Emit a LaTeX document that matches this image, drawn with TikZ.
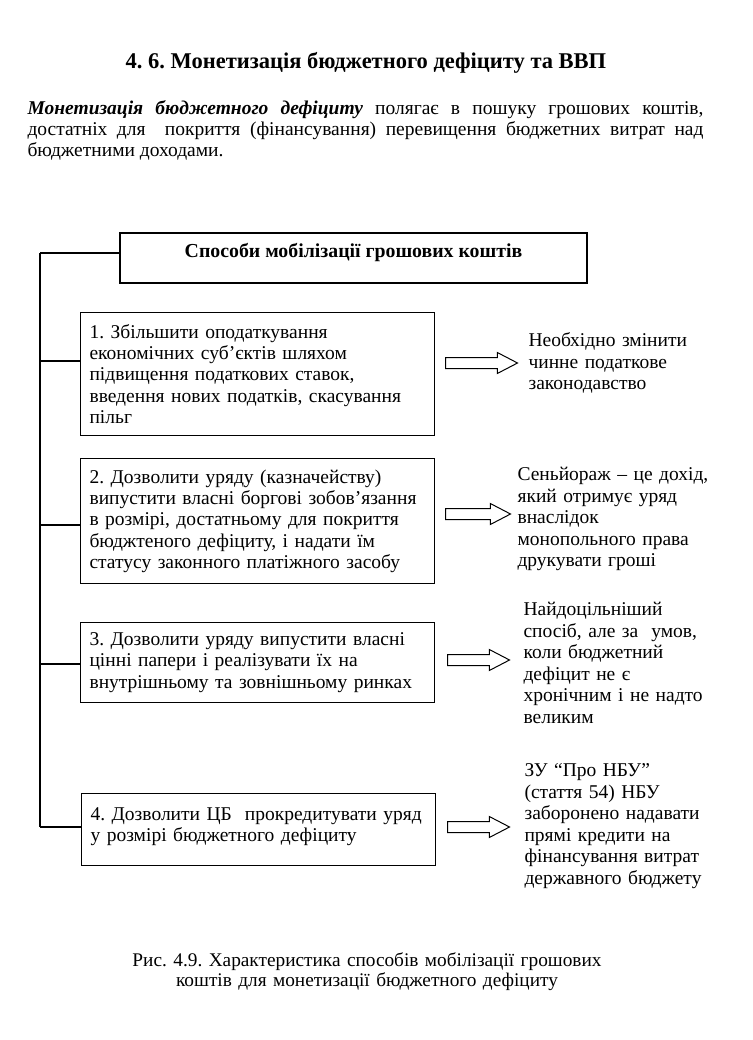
\documentclass[tikz,border=0pt]{standalone}
\usepackage{fontspec}
\setmainfont{Liberation Serif}
\usetikzlibrary{shapes.arrows}
\newcommand{\fsbody}{\frenchspacing\fontsize{19.5}{21.3}\selectfont}
\newcommand{\fsside}{\frenchspacing\fontsize{19.5}{21.6}\selectfont}
\begin{document}
\begin{tikzpicture}[x=1pt,y=-1pt,
  line width=1.1pt,
  box/.style={draw, line width=1.1pt, anchor=north west, inner xsep=9pt, inner ysep=0pt,
     text width=336pt, align=left, font=\fsbody},
  sidetext/.style={anchor=base west, inner sep=0pt, text width=220pt, align=left, font=\fsside},
  barrow/.style={single arrow, draw, line width=1pt, inner xsep=0pt, inner ysep=5pt, anchor=tail,
     single arrow head extend=5pt, single arrow tip angle=55}
]
\useasboundingbox[fill=white] (0,0) rectangle (752,1040);

% title
\node[font=\frenchspacing\fontsize{22.5}{26}\selectfont\bfseries, inner sep=0pt] (title) at (366,63)
  {4. 6. Монетизація бюджетного дефіциту та ВВП};

% intro paragraph
\node[anchor=base west, inner sep=0pt, text width=676pt, align=justify,
      font=\frenchspacing\fontsize{19.5}{21}\selectfont] (intro) at (27,114.5)
  {\textbf{\textit{Монетизація бюджетного дефіциту}} полягає в пошуку грошових коштів,\linebreak
   достатніх для\ \ покриття (фінансування) перевищення бюджетних витрат над\linebreak
   бюджетними доходами.};

% heading box
\node[draw, line width=1.1pt, minimum width=467pt, minimum height=50pt, inner sep=0pt,
      text height=12pt, text depth=13pt, font=\fontsize{19.8}{22}\selectfont\bfseries]
  (head) at (353.5,258) {Способи мобілізації грошових коштів};

% method boxes
\node[box, minimum height=123pt] (b1) at (80,312)
  {1. Збільшити оподаткування\\економічних суб’єктів шляхом\\підвищення податкових ставок,\\введення нових податків, скасування\\пільг};
\node[box, minimum height=125pt] (b2) at (80,458)
  {2. Дозволити уряду (казначейству)\\випустити власні боргові зобов’язання\\в розмірі, достатньому для покриття\\бюджтеного дефіциту, і надати їм\\статусу законного платіжного засобу};
\node[box, minimum height=80pt] (b3) at (80,622)
  {3. Дозволити уряду випустити власні\\цінні папери і реалізувати їх на\\внутрішньому та зовнішньому ринках};
\node[box, minimum height=72pt, text depth=31pt] (b4) at (81,793)
  {4. Дозволити ЦБ\ \ прокредитувати уряд\\у розмірі бюджетного дефіциту};

% spine and branches
\coordinate (s0) at (40,253);
\coordinate (s1) at (40,361);
\coordinate (s2) at (40,525);
\coordinate (s3) at (40,664);
\coordinate (s4) at (40,827);
\draw (s0) -- (s4);
\draw (s0) -- (s0 -| head.west);
\draw (s1) -- (s1 -| b1.west);
\draw (s2) -- (s2 -| b2.west);
\draw (s3) -- (s3 -| b3.west);
\draw (s4) -- (s4 -| b4.west);

% block arrows
\node[barrow, minimum height=72pt] (a1) at (445,363) {};
\node[barrow, minimum height=65pt] (a2) at (445,514) {};
\node[barrow, minimum height=62pt] (a3) at (447,660) {};
\node[barrow, minimum height=62pt] (a4) at (447,827) {};

% side notes
\node[sidetext] (t1) at (528,346.4)
  {Необхідно змінити\\чинне податкове\\законодавство};
\node[sidetext] (t2) at (517,480.4)
  {Сеньйораж – це дохід,\\який отримує уряд\\внаслідок\\монопольного права\\друкувати гроші};
\node[sidetext] (t3) at (523,615.4)
  {Найдоцільніший\\спосіб, але за\ \ умов,\\коли бюджетний\\дефіцит не є\\хронічним і не надто\\великим};
\node[sidetext] (t4) at (524,776.4)
  {ЗУ “Про НБУ”\\(стаття 54) НБУ\\заборонено надавати\\прямі кредити на\\фінансування витрат\\державного бюджету};

% caption
\node[anchor=base, align=center, inner sep=0pt, text width=560pt,
      font=\frenchspacing\fontsize{19.3}{20}\selectfont] (cap) at (367,966.4)
  {Рис. 4.9. Характеристика способів мобілізації грошових\\коштів для монетизації бюджетного дефіциту};
\end{tikzpicture}
\end{document}
